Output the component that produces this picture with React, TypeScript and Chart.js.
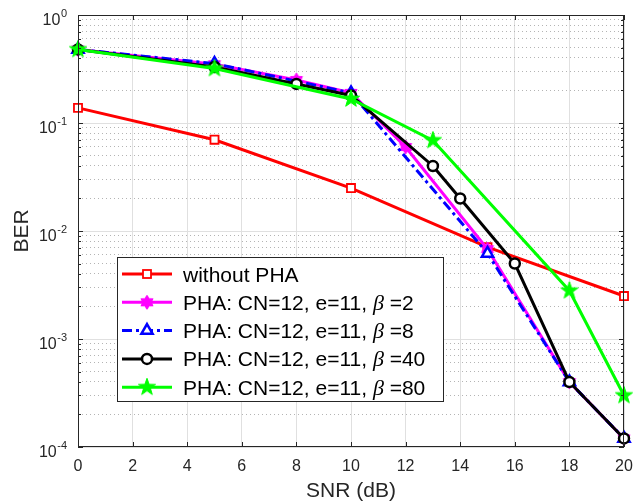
import React, { useEffect, useRef } from 'react';
import { Chart, registerables } from 'chart.js';

Chart.register(...registerables);

// ---- data ----
const snrNoPha = [0, 5, 10, 15, 20];
const berNoPha = [0.138, 0.07, 0.025, 0.0071, 0.0025];

const snrBeta2 = [0, 5, 8, 10, 12, 15, 18, 20];
const berBeta2 = [0.48, 0.35, 0.25, 0.19, 0.06, 0.0068, 0.0004, 0.00012];

const snrBeta8 = [0, 5, 10, 15, 18, 20];
const berBeta8 = [0.48, 0.355, 0.19, 0.0062, 0.0004, 0.00012];

const snrBeta40 = [0, 5, 8, 10, 13, 14, 16, 18, 20];
const berBeta40 = [0.48, 0.33, 0.23, 0.18, 0.04, 0.02, 0.005, 0.0004, 0.00012];

const snrBeta80 = [0, 5, 10, 13, 18, 20];
const berBeta80 = [0.48, 0.32, 0.167, 0.069, 0.0028, 0.0003];

const legendPrefix = 'PHA: CN=12, e=11, ';
const noPhaLabel = 'without PHA';
const betaValues = ['2', '8', '40', '80'];

const xTickValues = [0, 2, 4, 6, 8, 10, 12, 14, 16, 18, 20];
const yDecades = [-4, -3, -2, -1, 0];

const FONT = '"Liberation Sans", Arial, Helvetica, sans-serif';
const AXIS_COLOR = '#262626';
const LINE_W = 3;

function buildYTicks(): number[] {
  const out: number[] = [];
  for (let k = -4; k < 0; k++) {
    for (let m = 1; m <= 9; m++) out.push(m * Math.pow(10, k));
  }
  out.push(1);
  return out;
}
const yTickValues = buildYTicks();

function isMajor(v: number) {
  const l = Math.log10(v);
  return Math.abs(l - Math.round(l)) < 1e-6;
}

function makeStar(points: number, outer: number, inner: number, fill: string, stroke: string) {
  const size = Math.ceil(outer * 2 + 4);
  const c = document.createElement('canvas');
  c.width = size;
  c.height = size;
  const ctx = c.getContext('2d')!;
  const cx = size / 2;
  const cy = size / 2;
  ctx.beginPath();
  for (let i = 0; i < points * 2; i++) {
    const r = i % 2 === 0 ? outer : inner;
    const a = -Math.PI / 2 + (i * Math.PI) / points;
    const px = cx + r * Math.cos(a);
    const py = cy + r * Math.sin(a);
    if (i === 0) ctx.moveTo(px, py);
    else ctx.lineTo(px, py);
  }
  ctx.closePath();
  ctx.fillStyle = fill;
  ctx.fill();
  ctx.strokeStyle = stroke;
  ctx.lineWidth = 1;
  ctx.stroke();
  return c;
}

const toXY = (xs: number[], ys: number[]) => xs.map((x, i) => ({ x, y: ys[i] }));

export default function App() {
  const canvasRef = useRef<HTMLCanvasElement | null>(null);

  useEffect(() => {
    document.body.style.margin = '0';
    const canvas = canvasRef.current;
    if (!canvas) return;

    const hexagram = makeStar(6, 7, 4.2, '#ff00ff', '#ff00ff');
    const pentagram = makeStar(5, 9, 3.6, '#00ff00', '#00ff00');
    const blueDash = [10, 4, 3, 4];

    const boxPlugin = {
      id: 'matlabBox',
      afterDraw(chart: any) {
        const ctx = chart.ctx as CanvasRenderingContext2D;
        const { left, right, top, bottom } = chart.chartArea;
        const xs = chart.scales.x;
        const ys = chart.scales.y;
        ctx.save();
        // axes box
        ctx.strokeStyle = AXIS_COLOR;
        ctx.lineWidth = 1;
        ctx.strokeRect(Math.round(left) + 0.5, Math.round(top) + 0.5, Math.round(right - left) - 1, Math.round(bottom - top) - 1);
        // inward ticks
        ctx.beginPath();
        xTickValues.forEach((v) => {
          const px = Math.round(xs.getPixelForValue(v)) + 0.5;
          ctx.moveTo(px, bottom);
          ctx.lineTo(px, bottom - 5);
          ctx.moveTo(px, top);
          ctx.lineTo(px, top + 5);
        });
        yTickValues.forEach((v) => {
          const py = Math.round(ys.getPixelForValue(v)) + 0.5;
          const len = isMajor(v) ? 5 : 3;
          ctx.moveTo(left, py);
          ctx.lineTo(left + len, py);
          ctx.moveTo(right, py);
          ctx.lineTo(right - len, py);
        });
        ctx.stroke();

        // y tick labels 10^k
        ctx.fillStyle = AXIS_COLOR;
        const R = left - 11;
        yDecades.forEach((k) => {
          const py = ys.getPixelForValue(Math.pow(10, k));
          const exp = String(k);
          ctx.font = `11px ${FONT}`;
          const we = ctx.measureText(exp).width;
          ctx.textAlign = 'left';
          ctx.textBaseline = 'alphabetic';
          ctx.fillText(exp, R - we, py + 2);
          ctx.font = `16px ${FONT}`;
          ctx.textAlign = 'right';
          ctx.fillText('10', R - we - 0.5, py + 10);
        });

        // legend
        const lx = left + 39;
        const ly = top + 242;
        const lw = 326;
        const lh = 144;
        ctx.fillStyle = '#ffffff';
        ctx.fillRect(lx, ly, lw, lh);
        ctx.strokeStyle = AXIS_COLOR;
        ctx.lineWidth = 1;
        ctx.strokeRect(lx + 0.5, ly + 0.5, lw, lh);

        const rows = [
          { color: '#ff0000', dash: [] as number[], marker: 'rect', text: noPhaLabel, beta: '' },
          { color: '#ff00ff', dash: [], marker: 'hex', text: legendPrefix, beta: betaValues[0] },
          { color: '#0000ff', dash: blueDash, marker: 'tri', text: legendPrefix, beta: betaValues[1] },
          { color: '#000000', dash: [], marker: 'circle', text: legendPrefix, beta: betaValues[2] },
          { color: '#00ff00', dash: [], marker: 'pent', text: legendPrefix, beta: betaValues[3] },
        ];
        rows.forEach((r, i) => {
          const cy = ly + 17 + i * 28.3;
          const x0 = lx + 5;
          const x1 = lx + 55;
          const mx = lx + 30;
          ctx.save();
          ctx.strokeStyle = r.color;
          ctx.lineWidth = LINE_W;
          ctx.setLineDash(r.dash);
          ctx.beginPath();
          ctx.moveTo(x0, cy);
          ctx.lineTo(x1, cy);
          ctx.stroke();
          ctx.setLineDash([]);
          if (r.marker === 'rect') {
            ctx.fillStyle = '#ffffff';
            ctx.lineWidth = 1.8;
            ctx.fillRect(mx - 4, cy - 4, 8, 8);
            ctx.strokeRect(mx - 4, cy - 4, 8, 8);
          } else if (r.marker === 'tri') {
            ctx.fillStyle = '#ffffff';
            ctx.lineWidth = 2.5;
            ctx.beginPath();
            const rr = 6.5;
            for (let j = 0; j < 3; j++) {
              const a = -Math.PI / 2 + (j * 2 * Math.PI) / 3;
              const px = mx + rr * Math.cos(a);
              const py = cy + rr * Math.sin(a);
              if (j === 0) ctx.moveTo(px, py);
              else ctx.lineTo(px, py);
            }
            ctx.closePath();
            ctx.fill();
            ctx.stroke();
          } else if (r.marker === 'circle') {
            ctx.fillStyle = '#ffffff';
            ctx.lineWidth = 2.5;
            ctx.beginPath();
            ctx.arc(mx, cy, 5, 0, Math.PI * 2);
            ctx.fill();
            ctx.stroke();
          } else if (r.marker === 'hex') {
            ctx.drawImage(hexagram, mx - hexagram.width / 2, cy - hexagram.height / 2);
          } else if (r.marker === 'pent') {
            ctx.drawImage(pentagram, mx - pentagram.width / 2, cy - pentagram.height / 2);
          }
          ctx.restore();

          // text
          let tx = lx + 66;
          const base = cy + 7.5;
          ctx.fillStyle = '#000000';
          ctx.textAlign = 'left';
          ctx.textBaseline = 'alphabetic';
          ctx.font = `21px ${FONT}`;
          ctx.fillText(r.text, tx, base);
          if (r.beta) {
            tx += ctx.measureText(r.text).width;
            ctx.font = `italic 22px "Liberation Serif", serif`;
            ctx.fillText('β', tx, base);
            tx += ctx.measureText('β').width;
            ctx.font = `21px ${FONT}`;
            ctx.fillText(' =' + r.beta, tx, base);
          }
        });
        ctx.restore();
      },
    };

    const chart = new Chart(canvas, {
      type: 'line',
      data: {
        datasets: [
          {
            label: noPhaLabel,
            data: toXY(snrNoPha, berNoPha),
            borderColor: '#ff0000',
            backgroundColor: '#ffffff',
            borderWidth: LINE_W,
            pointStyle: 'rect',
            pointRadius: 5.7,
            pointBorderWidth: 1.8,
            pointBackgroundColor: '#ffffff',
            pointBorderColor: '#ff0000',
            order: 5,
            clip: false,
          },
          {
            label: legendPrefix + 'β =' + betaValues[0],
            data: toXY(snrBeta2, berBeta2),
            borderColor: '#ff00ff',
            borderWidth: LINE_W,
            pointStyle: hexagram as any,
            pointRadius: 7,
            order: 4,
            clip: false,
          },
          {
            label: legendPrefix + 'β =' + betaValues[1],
            data: toXY(snrBeta8, berBeta8),
            borderColor: '#0000ff',
            borderWidth: LINE_W,
            borderDash: blueDash,
            pointStyle: 'triangle',
            pointRadius: 6.5,
            pointBorderWidth: 2.5,
            pointBackgroundColor: '#ffffff',
            pointBorderColor: '#0000ff',
            order: 3,
            clip: false,
          },
          {
            label: legendPrefix + 'β =' + betaValues[2],
            data: toXY(snrBeta40, berBeta40),
            borderColor: '#000000',
            borderWidth: LINE_W,
            pointStyle: 'circle',
            pointRadius: 5,
            pointBorderWidth: 2.5,
            pointBackgroundColor: '#ffffff',
            pointBorderColor: '#000000',
            order: 2,
            clip: false,
          },
          {
            label: legendPrefix + 'β =' + betaValues[3],
            data: toXY(snrBeta80, berBeta80),
            borderColor: '#00ff00',
            borderWidth: LINE_W,
            pointStyle: pentagram as any,
            pointRadius: 9,
            order: 1,
            clip: false,
          },
        ],
      },
      options: {
        responsive: false,
        animation: false,
        events: [],
        layout: { padding: { top: 15, right: 7.3, left: 0, bottom: 0 } },
        plugins: {
          legend: { display: false },
          tooltip: { enabled: false },
        },
        scales: {
          x: {
            type: 'linear',
            min: 0,
            max: 20,
            afterBuildTicks: (s: any) => {
              s.ticks = xTickValues.map((v) => ({ value: v }));
            },
            afterFit: (s: any) => {
              s.height = 55;
              s.paddingLeft = 0;
              s.paddingRight = 0;
            },
            ticks: {
              font: { family: FONT, size: 16 },
              color: AXIS_COLOR,
              padding: 10,
              maxRotation: 0,
              autoSkip: false,
            },
            grid: { color: '#e0e0e0', lineWidth: 1, drawTicks: false },
            border: { display: false },
            title: {
              display: true,
              text: 'SNR (dB)',
              color: AXIS_COLOR,
              font: { family: FONT, size: 21, lineHeight: 1 },
              padding: { top: 0, bottom: 0 },
            },
          },
          y: {
            type: 'logarithmic',
            min: 1e-4,
            max: 1,
            position: 'left',
            afterBuildTicks: (s: any) => {
              s.ticks = yTickValues.map((v) => ({ value: v }));
            },
            afterFit: (s: any) => {
              s.width = 78;
              s.paddingTop = 0;
              s.paddingBottom = 0;
            },
            ticks: { display: false },
            grid: {
              color: (c: any) => (c.tick && isMajor(c.tick.value) ? '#e0e0e0' : 'rgba(0,0,0,0)'),
              lineWidth: 1,
              drawTicks: false,
            },
            border: { display: false },
            title: {
              display: true,
              text: 'BER',
              color: AXIS_COLOR,
              font: { family: FONT, size: 21 },
              padding: { top: 10, bottom: 0 },
            },
          },
          yMinor: {
            type: 'logarithmic',
            min: 1e-4,
            max: 1,
            position: 'left',
            afterBuildTicks: (s: any) => {
              s.ticks = yTickValues.map((v) => ({ value: v }));
            },
            afterFit: (s: any) => {
              s.width = 0;
              s.paddingTop = 0;
              s.paddingBottom = 0;
            },
            ticks: { display: false },
            grid: {
              color: (c: any) => (c.tick && !isMajor(c.tick.value) ? '#b4b4b4' : 'rgba(0,0,0,0)'),
              lineWidth: 1,
              drawTicks: false,
            },
            border: { display: false, dash: [1, 3] },
          },
        },
      },
      plugins: [boxPlugin],
    } as any);

    return () => {
      chart.destroy();
    };
  }, []);

  return (
    <div style={{ position: 'fixed', left: 0, top: 0, width: 636, height: 502, background: '#ffffff' }}>
      <canvas ref={canvasRef} width={636} height={502} style={{ display: 'block' }} />
    </div>
  );
}
